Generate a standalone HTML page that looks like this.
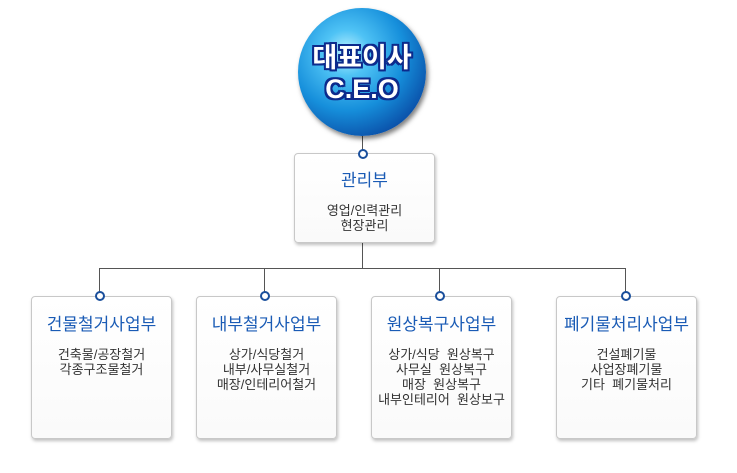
<!DOCTYPE html>
<html><head><meta charset="utf-8"><style>
body{margin:0;width:737px;height:473px;background:#fff;position:relative;overflow:hidden;font-family:"Liberation Sans","Noto Sans CJK KR","NanumGothic",sans-serif}
.box{position:absolute;border:1px solid #c8c8c8;border-radius:4px;background:linear-gradient(#fff,#fafafa);box-shadow:1px 2px 3px rgba(0,0,0,0.25);text-align:center}
.t{color:#1a5bb5;font-size:17px;margin-top:13px}
.d{color:#333;font-size:13px;line-height:15px;margin-top:12px}
.l{position:absolute;background:#555}
.dot{position:absolute;width:6px;height:6px;border:2px solid #1a4f9c;border-radius:50%;background:#fff}
.ball{position:absolute;left:298px;top:8px;width:128px;height:128px;border-radius:50%;background:radial-gradient(circle at 38% 35%,#bdf2ff 0%,#4fc3f5 20%,#168fdb 50%,#0a4fa8 78%,#062e6e 100%);box-shadow:2px 3px 5px rgba(0,0,0,0.5);text-align:center;color:#fff;font-weight:bold;font-size:27px;line-height:31px}
.ball div{text-shadow:-2px -2px 0 #0c2a8c,2px -2px 0 #0c2a8c,-2px 2px 0 #0c2a8c,2px 2px 0 #0c2a8c,0 2px 0 #0c2a8c,0 -2px 0 #0c2a8c,2px 0 0 #0c2a8c,-2px 0 0 #0c2a8c}
</style></head><body>
<div class="l" style="left:362px;top:136px;width:1px;height:18px"></div>
<div class="l" style="left:362px;top:242px;width:1px;height:27px"></div>
<div class="l" style="left:99px;top:268px;width:527px;height:1px"></div>
<div class="l" style="left:99px;top:268px;width:1px;height:26px"></div>
<div class="l" style="left:264px;top:268px;width:1px;height:26px"></div>
<div class="l" style="left:439px;top:268px;width:1px;height:26px"></div>
<div class="l" style="left:625px;top:268px;width:1px;height:26px"></div>
<div class="ball"><div style="margin-top:35px">대표이사</div><div>C.E.O</div></div>
<div class="box" style="left:294px;top:153px;width:139px;height:88px"><div class="t" style="margin-top:12px">관리부</div><div class="d" style="margin-top:12px">영업/인력관리<br>현장관리</div></div>
<div class="box" style="left:31px;top:296px;width:139px;height:141px"><div class="t">건물철거사업부</div><div class="d">건축물/공장철거<br>각종구조물철거</div></div>
<div class="box" style="left:196px;top:296px;width:139px;height:141px"><div class="t">내부철거사업부</div><div class="d">상가/식당철거<br>내부/사무실철거<br>매장/인테리어철거</div></div>
<div class="box" style="left:371px;top:296px;width:139px;height:141px"><div class="t">원상복구사업부</div><div class="d">상가/식당&nbsp; 원상복구<br>사무실&nbsp; 원상복구<br>매장&nbsp; 원상복구<br>내부인테리어&nbsp; 원상보구</div></div>
<div class="box" style="left:556px;top:296px;width:139px;height:141px"><div class="t">폐기물처리사업부</div><div class="d">건설폐기물<br>사업장폐기물<br>기타&nbsp; 폐기물처리</div></div>
<div class="dot" style="left:358px;top:149px"></div>
<div class="dot" style="left:95px;top:291px"></div>
<div class="dot" style="left:260px;top:291px"></div>
<div class="dot" style="left:435px;top:291px"></div>
<div class="dot" style="left:621px;top:291px"></div>
</body></html>
